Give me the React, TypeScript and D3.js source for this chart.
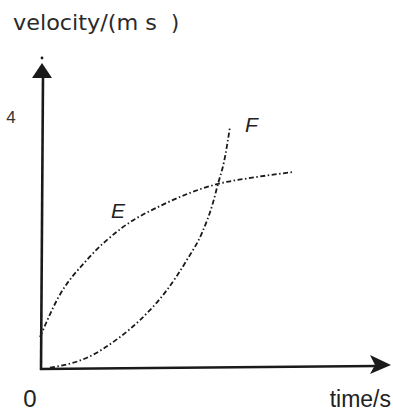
import React from "react";
import * as d3 from "d3";

// Curve E: velocity rises quickly then levels off
const timeE = [0, 0.36, 0.94, 1.64, 2.46, 3.56, 4.34, 5.06];
const velE = [0.51, 1.13, 1.74, 2.25, 2.62, 2.95, 3.06, 3.14];

// Curve F: starts from rest and accelerates ever faster
const timeF = [0.2, 0.94, 1.6, 2.0, 2.54, 2.94, 3.24, 3.46, 3.56, 3.68, 3.8];
const velF = [0.02, 0.18, 0.51, 0.78, 1.26, 1.74, 2.17, 2.65, 2.95, 3.3, 3.86];

const yTicks = [4];

const W = 393;
const H = 411;

export default function App() {
  const x = d3.scaleLinear().domain([0, 7]).range([40, 390]);
  const y = d3.scaleLinear().domain([0, 4]).range([369, 118]);

  const line = d3
    .line<[number, number]>()
    .x((d) => x(d[0]))
    .y((d) => y(d[1]))
    .curve(d3.curveMonotoneX);

  const eData = timeE.map((t, i) => [t, velE[i]] as [number, number]);
  const fData = timeF.map((t, i) => [t, velF[i]] as [number, number]);

  const ink = "#1a1a1a";
  const font = "'Liberation Sans', Arial, sans-serif";
  const dash = "5 2.5 1.5 2.5";

  const x0 = x(0);
  const y0 = y(0);

  return (
    <svg
      width={W}
      height={H}
      style={{ position: "absolute", left: 0, top: 0, background: "#fff" }}
      fontFamily={font}
    >
      <rect width={W} height={H} fill="#fff" />
      {/* axis title; the unit exponent is left blank */}
      <text y={30} fontSize={21} fill="#2a2a2a" fontFamily="'DejaVu Sans', sans-serif">
        <tspan x={13} textLength={144} lengthAdjust="spacingAndGlyphs">
          velocity/(m s
        </tspan>
        <tspan x={171}>)</tspan>
      </text>

      {/* y axis with arrowhead */}
      <line x1={x0 + 1} y1={y0 + 1} x2={x0 + 3} y2={76} stroke={ink} strokeWidth={2.6} />
      <path d={`M ${x0 - 8} 78 L ${x0 + 2} 63 L ${x0 + 12} 78 Z`} fill={ink} />
      <circle cx={x0 + 2} cy={58} r={1.4} fill={ink} />

      {/* x axis with arrowhead */}
      <line x1={x0} y1={y0} x2={376} y2={366} stroke={ink} strokeWidth={2.6} />
      <path d={`M 370 355 L 391 365 L 370 374 L 375 365 Z`} fill={ink} />

      {/* tick labels */}
      {yTicks.map((v) => (
        <text key={v} x={11} y={y(v) + 5} fontSize={17} fill="#333" textAnchor="middle">
          {v}
        </text>
      ))}
      <text x={30} y={407} fontSize={24} fill="#222" textAnchor="middle">
        0
      </text>
      <text x={391} y={407} fontSize={23} fill="#222" textAnchor="end">
        time/s
      </text>

      {/* curves */}
      <path d={line(eData) ?? ""} fill="none" stroke={ink} strokeWidth={1.8} strokeDasharray={dash} />
      <path d={line(fData) ?? ""} fill="none" stroke={ink} strokeWidth={1.8} strokeDasharray={dash} />

      {/* curve labels */}
      <text x={111} y={218} fontSize={21} fontStyle="italic" fill="#222">
        E
      </text>
      <text x={245} y={132} fontSize={21} fontStyle="italic" fill="#222">
        F
      </text>
    </svg>
  );
}
